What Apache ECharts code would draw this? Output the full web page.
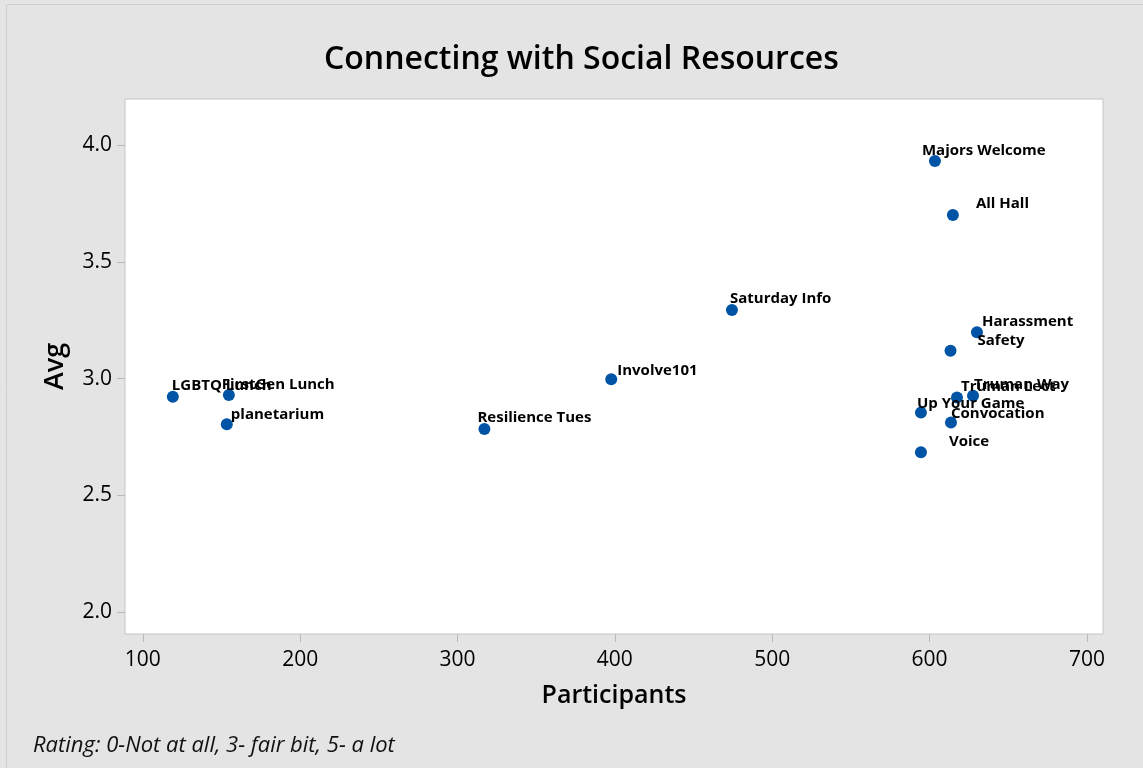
<!DOCTYPE html>
<html>
<head>
<meta charset="utf-8">
<script src="https://cdn.jsdelivr.net/npm/echarts@6/dist/echarts.min.js"></script>
<style>
html,body{margin:0;padding:0;background:#e4e4e4;}
#chart{width:1143px;height:768px;}
</style>
</head>
<body>
<div id="chart"></div>
<script>
// ---- data ----
const names = ["LGBTQ Lunch","FirstGen Lunch","planetarium","Resilience Tues","Involve101","Saturday Info","Majors Welcome","All Hall","Harassment","Safety","Truman Way","Truman Lect","Up Your Game","Convocation","Voice"];
const participants = [119.1,154.7,153.4,317.1,397.7,474.4,603.4,614.8,630.1,613.3,627.6,617.4,594.5,613.6,594.5];
const avg = [2.922,2.929,2.804,2.784,2.997,3.293,3.931,3.700,3.198,3.119,2.926,2.919,2.854,2.812,2.684];
const xTicks = [100,200,300,400,500,600,700];
const yTicks = [2.0,2.5,3.0,3.5,4.0];

// ---- label layout (offset of label left/center from point centre, px) ----
const labelOffsets = [[-1,-12],[-7,-11],[4,-11],[-7,-12],[6,-9],[-2,-12],[-13,-11],[23,-12],[5,-12],[27,-11],[1,-12],[4,-12],[-4,-10],[0,-10],[28,-12]];

const SYM = 12;
const points = names.map((n,i)=>({
  name:n,
  value:[participants[i],avg[i]],
  label:{position:[labelOffsets[i][0]+SYM/2, labelOffsets[i][1]+SYM/2+1]}
}));

const chart = echarts.init(document.getElementById('chart'));
const font = '"Open Sans", "Noto Sans", sans-serif';
chart.setOption({
  backgroundColor:'#e4e4e4',
  animation:false,
  title:{
    text:'Connecting with Social Resources',
    left:319, top:39,
    textStyle:{fontFamily:font,fontSize:32,fontWeight:600,color:'#000'}
  },
  graphic:[
    {type:'rect',shape:{x:6.5,y:4.5,width:1200,height:800},style:{fill:'none',stroke:'#cfcfcf',lineWidth:1},silent:true,z:-1},
    {type:'text',left:33,top:735,style:{text:'Rating: 0-Not at all, 3- fair bit, 5- a lot',font:'italic 22px "Open Sans", sans-serif',fill:'#111'}}
  ],
  grid:{left:125,top:99,right:40,bottom:134,show:true,backgroundColor:'#fff',borderColor:'#c4c4c4',borderWidth:1},
  xAxis:{
    type:'value', min:88.7, max:710.2,
    name:'Participants', nameLocation:'middle', nameGap:49,
    nameTextStyle:{fontFamily:font,fontSize:25,fontWeight:600,color:'#000'},
    axisLine:{show:false},
    splitLine:{show:false},
    axisTick:{show:true,length:8,lineStyle:{color:'#b8b8b8'},customValues:xTicks},
    axisLabel:{fontFamily:font,fontSize:21,color:'#000',margin:16,customValues:xTicks,formatter:v=>String(v)}
  },
  yAxis:{
    type:'value', min:1.906, max:4.197,
    name:'Avg', nameLocation:'middle', nameGap:56,
    nameTextStyle:{fontFamily:font,fontSize:27,fontWeight:600,color:'#000'},
    axisLine:{show:false},
    splitLine:{show:false},
    axisTick:{show:true,length:8,lineStyle:{color:'#b8b8b8'},customValues:yTicks},
    axisLabel:{fontFamily:font,fontSize:21,color:'#000',margin:13,customValues:yTicks,formatter:v=>v.toFixed(1)}
  },
  series:[{
    type:'scatter',
    symbolSize:SYM,
    itemStyle:{color:'#0054a6',opacity:1},
    label:{show:true,formatter:p=>p.name,align:'left',verticalAlign:'middle',
      fontFamily:font,fontSize:15,fontWeight:'bold',color:'#000'},
    labelLayout:{hideOverlap:false},
    data:points
  }]
});
</script>
</body>
</html>
